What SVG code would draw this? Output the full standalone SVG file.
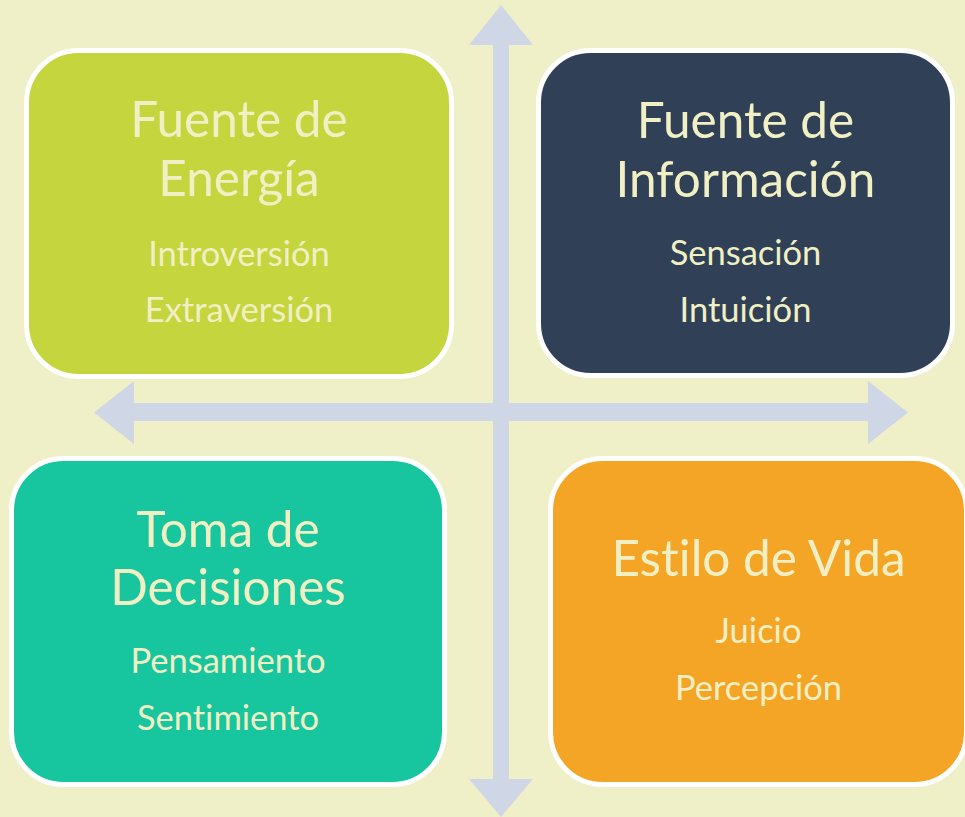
<svg xmlns="http://www.w3.org/2000/svg" width="965" height="817" viewBox="0 0 965 817">
<style>
.box{stroke:#ffffff;stroke-width:5}
.t{font-family:Lato,"Noto Sans",sans-serif;fill:#f1efc4;text-anchor:middle;font-variant-ligatures:none;font-feature-settings:"liga" 0}
.h{font-size:49.5px}
.s{font-size:34.5px}
.arr{fill:#cfd7e6}
</style>
<rect x="0" y="0" width="965" height="817" fill="#efefc8"/>
<g id="connectors">
<polygon class="arr" points="94,412.5 134,381 134,403 868,403 868,381 908,412.5 868,444 868,421 134,421 134,444"/>
<polygon class="arr" points="501,5 533,45 509,45 509,779 533,779 501,817 469,779 493,779 493,45 469,45"/>
</g>
<g id="fuente-energia">
<rect class="box" x="26.5" y="50.5" width="425" height="326" rx="52" fill="#c4d53d"/>
<text class="t h" x="239" y="137">Fuente de</text>
<text class="t h" x="239" y="196">Energía</text>
<text class="t s" x="239" y="266">Introversión</text>
<text class="t s" x="239" y="322">Extraversión</text>
</g>
<g id="fuente-informacion">
<rect class="box" x="538.5" y="50.5" width="414" height="325" rx="52" fill="#2f4057"/>
<text class="t h" x="745.5" y="138">Fuente de</text>
<text class="t h" x="745.5" y="197">Información</text>
<text class="t s" x="745.5" y="265">Sensación</text>
<text class="t s" x="745.5" y="322">Intuición</text>
</g>
<g id="toma-decisiones">
<rect class="box" x="11.5" y="458.5" width="433" height="326" rx="52" fill="#17c69e"/>
<text class="t h" x="228" y="547">Toma de</text>
<text class="t h" x="228" y="605">Decisiones</text>
<text class="t s" x="228" y="673">Pensamiento</text>
<text class="t s" x="228" y="730">Sentimiento</text>
</g>
<g id="estilo-vida">
<rect class="box" x="550.5" y="458.5" width="416" height="326" rx="52" fill="#f5a526"/>
<text class="t h" x="758.5" y="576">Estilo de Vida</text>
<text class="t s" x="758.5" y="643">Juicio</text>
<text class="t s" x="758.5" y="700">Percepción</text>
</g>
</svg>
